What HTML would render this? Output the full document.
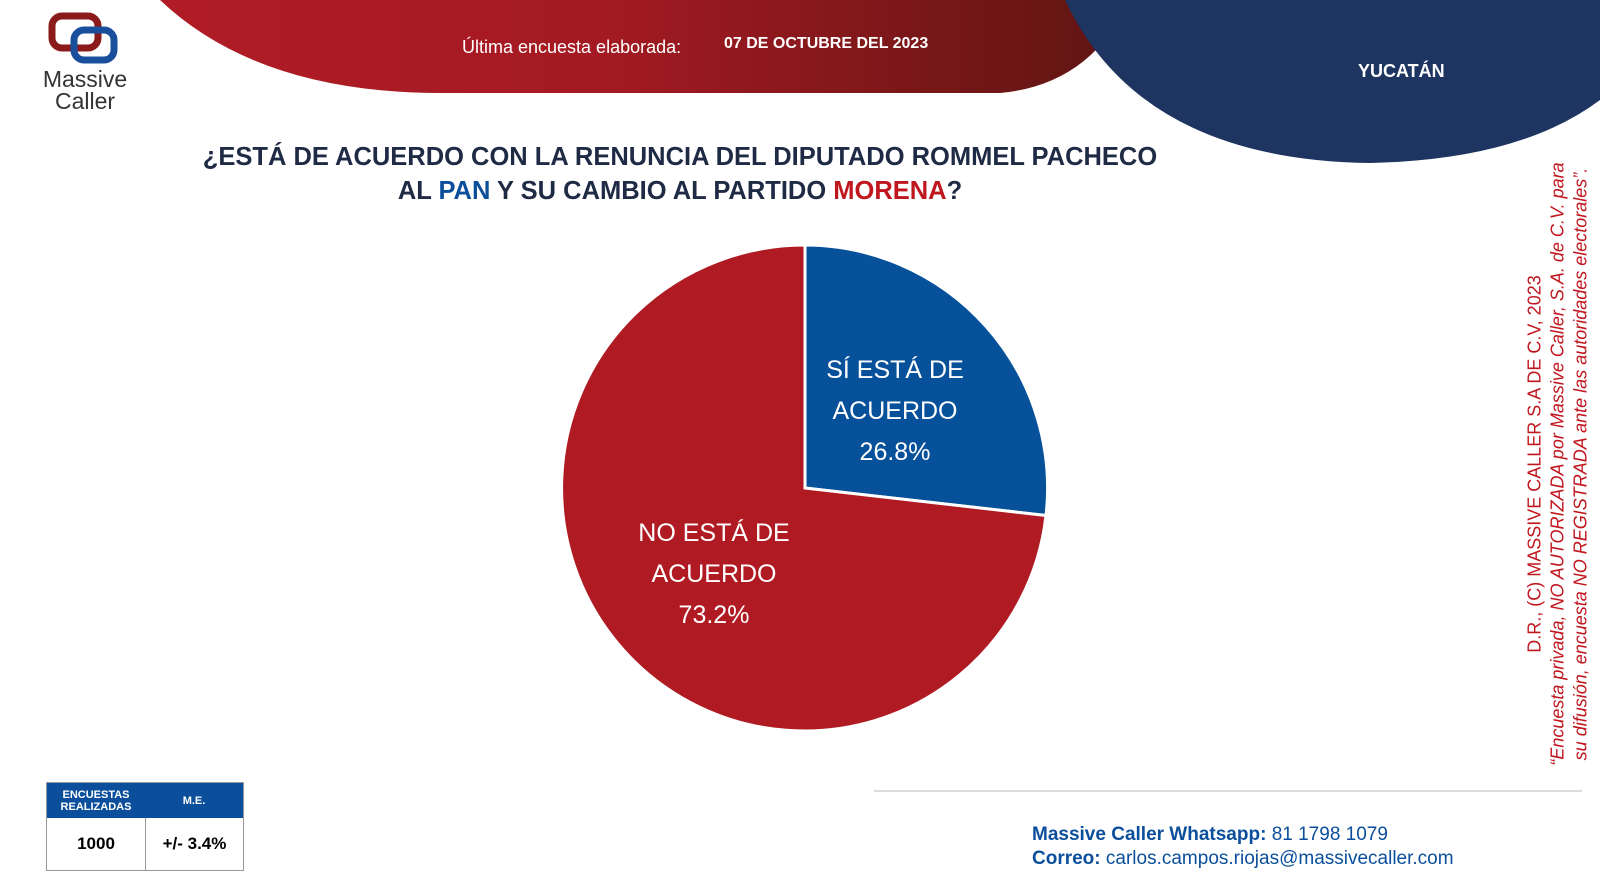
<!DOCTYPE html>
<html><head><meta charset="utf-8"><style>
body{margin:0;width:1600px;height:886px;overflow:hidden;background:#fff;font-family:"Liberation Sans",sans-serif;position:relative}
.abs{position:absolute}
</style></head><body>
<svg class="abs" style="left:0;top:0" width="1600" height="886">
<defs>
<linearGradient id="rg" x1="0" x2="1" y1="0" y2="0"><stop offset="0" stop-color="#b01c26"/><stop offset="0.45" stop-color="#a41a22"/><stop offset="1" stop-color="#5e1512"/></linearGradient>
</defs>
<path d="M160 0 Q260 95 450 93 L1000 93 Q1090 85 1130 0 Z" fill="url(#rg)"/>
<path d="M1065 0 Q1140 160 1370 163 Q1520 160 1600 100 L1600 0 Z" fill="#1e3461"/>
<path d="M805 488 L805 245 A243 243 0 0 1 1046 515.5 Z" fill="#07509a" stroke="#fff" stroke-width="3"/>
<path d="M805 488 L1046 515.5 A243 243 0 1 1 805 245 Z" fill="#b01b23" stroke="#fff" stroke-width="3"/>
<rect x="52" y="16" width="46" height="32" rx="10" fill="none" stroke="#8b1a1a" stroke-width="7"/>
<rect x="74" y="30" width="40" height="30" rx="10" fill="none" stroke="#1a4f9c" stroke-width="7"/>
<line x1="874" y1="791" x2="1582" y2="791" stroke="#ddd" stroke-width="2"/>
</svg>
<div class="abs" style="left:38px;top:68px;font-size:23px;color:#333;width:94px;text-align:center;line-height:22px">Massive<br>Caller</div>
<div class="abs" style="left:462px;top:37px;color:#fff;font-size:18px">Última encuesta elaborada:</div>
<div class="abs" style="left:724px;top:35px;color:#fff;font-size:16px;font-weight:bold">07 DE OCTUBRE DEL 2023</div>
<div class="abs" style="left:1358px;top:61px;color:#fff;font-size:18px;font-weight:bold">YUCATÁN</div>
<div class="abs" style="left:180px;top:140px;width:1000px;text-align:center;font-size:25.5px;font-weight:bold;color:#1f2a44;line-height:34px">¿ESTÁ DE ACUERDO CON LA RENUNCIA DEL DIPUTADO ROMMEL PACHECO<br>AL <span style="color:#0b4f9c">PAN</span> Y SU CAMBIO AL PARTIDO <span style="color:#c0161e">MORENA</span>?</div>
<div class="abs" style="left:800px;top:350px;width:190px;text-align:center;color:#fff;font-size:25px;line-height:41px">SÍ ESTÁ DE<br>ACUERDO<br>26.8%</div>
<div class="abs" style="left:619px;top:513px;width:190px;text-align:center;color:#fff;font-size:25px;line-height:41px">NO ESTÁ DE<br>ACUERDO<br>73.2%</div>
<div class="abs" style="left:1558px;top:464px;width:640px;transform:translate(-50%,-50%) rotate(-90deg);color:#c0161e;font-size:18px;line-height:23px;text-align:center;white-space:nowrap">D.R., (C) MASSIVE CALLER S.A DE C.V, 2023<br><i>“Encuesta privada, NO AUTORIZADA por Massive Caller, S.A. de C.V. para<br>su difusión, encuesta NO REGISTRADA ante las autoridades electorales”.</i></div>
<div class="abs" style="left:46px;top:782px;width:198px;height:89px;border:1px solid #999;box-sizing:border-box">
<div style="display:flex;height:35px;background:#0b4f9c;color:#fff;font-size:11px;font-weight:bold;text-align:center;align-items:center"><div style="width:98px">ENCUESTAS<br>REALIZADAS</div><div style="flex:1">M.E.</div></div>
<div style="display:flex;height:52px;font-size:17px;font-weight:bold;align-items:center;text-align:center"><div style="width:98px;border-right:1px solid #999;line-height:52px">1000</div><div style="flex:1">+/- 3.4%</div></div></div>
<div class="abs" style="left:1032px;top:823px;font-size:19px;color:#0b4f9c;line-height:24px"><b>Massive Caller Whatsapp:</b> 81 1798 1079<br><b>Correo:</b> carlos.campos.riojas@massivecaller.com</div>
</body></html>
